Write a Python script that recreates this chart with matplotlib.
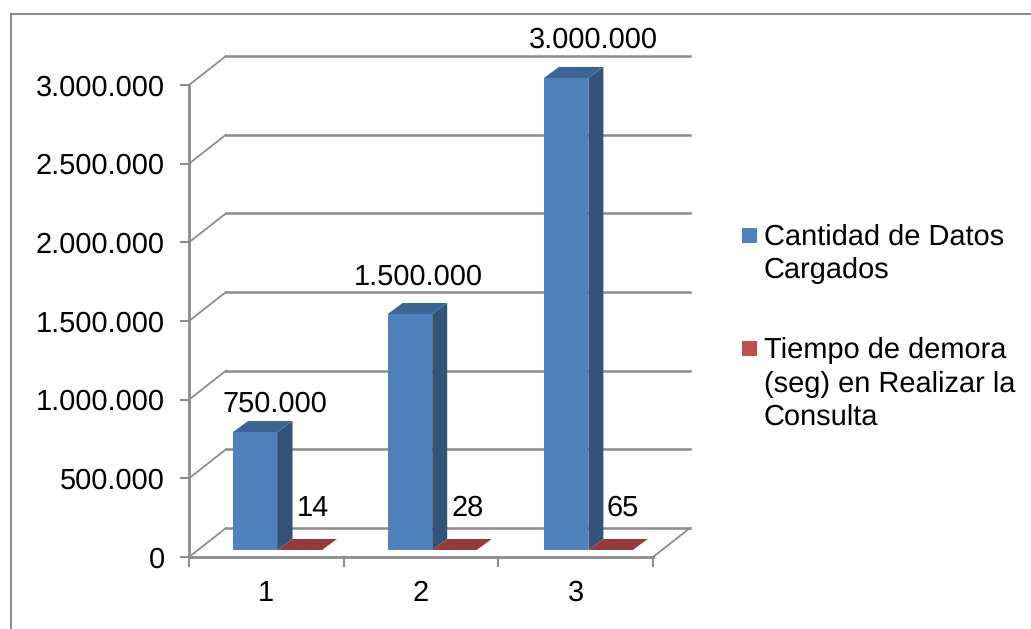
import matplotlib
matplotlib.use("Agg")
import matplotlib.pyplot as plt
from matplotlib.patches import Polygon, Rectangle

plt.rcParams['font.family'] = ['Liberation Sans', 'DejaVu Sans']
plt.rcParams['text.hinting'] = 'no_hinting'
plt.rcParams['text.hinting_factor'] = 1

# -----------------------------
# data
# -----------------------------
categories = [1, 2, 3]
cantidad = [750000, 1500000, 3000000]
tiempo = [14, 28, 65]
y_ticks = [0, 500000, 1000000, 1500000, 2000000, 2500000, 3000000]
y_labels = ["0", "500.000", "1.000.000", "1.500.000", "2.000.000", "2.500.000", "3.000.000"]
cantidad_labels = ["750.000", "1.500.000", "3.000.000"]
tiempo_labels = ["14", "28", "65"]

W, H = 1031, 629
FS = 21.15
FS_LEG = 21
GRAY = "#8c8c8c"

fig = plt.figure(figsize=(W / 100, H / 100), dpi=100)
# front plane of the fake 3d box
ax = fig.add_axes([189 / W, (H - 557) / H, (653 - 189) / W, (557 - 85) / H])
ax.set_xlim(0.5, 3.5)
ax.set_ylim(0, 3000000)
ax.patch.set_visible(False)
for s in ax.spines.values():
    s.set_visible(False)

px_x = 3.0 / (653 - 189)      # data units per pixel
px_y = 3000000 / (557 - 85)
depth_x, depth_y = 37 * px_x, 29 * px_y          # depth of the box
bar_dx, bar_dy = 15 * px_x, 11 * px_y            # depth of one bar
off_x, off_y = 9 * px_x, 7 * px_y                # bars sit a bit behind the front
bar_w = 44.5 * px_x
bar_left = -42.3 * px_x                          # from the category centre
nudge = [0, 0, 1.5 * px_x]                       # third group sits slightly right


def poly(pts, color, z=3):
    ax.add_patch(Polygon(pts, closed=True, facecolor=color, edgecolor="none", clip_on=False, zorder=z))


# grid on the back wall and the side wall
for v in y_ticks:
    ax.plot([0.5, 0.5 + depth_x], [v, v + depth_y], color=GRAY, lw=1.3, clip_on=False, zorder=1)
    ax.plot([0.5 + depth_x, 3.5 + depth_x], [v + depth_y, v + depth_y], color=GRAY, lw=1.8,
            clip_on=False, zorder=1)

# floor and axis lines
ax.plot([3.5, 3.5 + depth_x], [0, depth_y], color=GRAY, lw=1.3, clip_on=False, zorder=1)
ax.plot([0.5, 3.5], [0, 0], color=GRAY, lw=2, clip_on=False, zorder=2)
ax.plot([0.5, 0.5], [0, 3000000], color=GRAY, lw=2, clip_on=False, zorder=2)

# bars
for i, c in enumerate(categories):
    x0 = c + bar_left + off_x + nudge[i]
    x1 = x0 + bar_w
    base = off_y
    top = base + cantidad[i]
    poly([(x0, base), (x1, base), (x1, top), (x0, top)], "#4f81bd", 4)
    poly([(x1, base), (x1 + bar_dx, base + bar_dy), (x1 + bar_dx, top + bar_dy), (x1, top)], "#335379", 4)
    poly([(x0, top), (x1, top), (x1 + bar_dx, top + bar_dy), (x0 + bar_dx, top + bar_dy)], "#3d6593", 4)

    # red one is almost flat, only the top shows
    x2 = x1 + bar_w
    rtop = base + tiempo[i]
    poly([(x1, rtop), (x2, rtop), (x2 + bar_dx, rtop + bar_dy), (x1 + bar_dx, rtop + bar_dy)], "#953a3a", 3)

# data labels, offset in pixels from the bar top
lab_off = [(20, 28), (8, 37), (27, 38)]
for i, c in enumerate(categories):
    x0 = c + bar_left + off_x + nudge[i]
    ax.annotate(cantidad_labels[i], (x0 + bar_w / 2, off_y + cantidad[i]), xytext=lab_off[i],
                textcoords="offset pixels", ha="center", va="center", fontsize=FS, color="black",
                annotation_clip=False, zorder=6)
    ax.annotate(tiempo_labels[i], (c, 0), xytext=(47, 49), textcoords="offset pixels",
                ha="center", va="center", fontsize=FS, color="black",
                annotation_clip=False, zorder=6)

# ticks
ax.set_yticks(y_ticks)
ax.set_yticklabels(y_labels, fontsize=FS, color="black")
ax.set_xticks(categories)
ax.set_xticklabels([str(c) for c in categories], fontsize=FS, color="black")
ax.tick_params(axis="x", length=0, pad=16.5)
ax.tick_params(axis="y", length=6.5, width=1.5, color=GRAY, pad=11)
for v in [0.5, 1.5, 2.5, 3.5]:
    ax.plot([v, v], [0, -9 * px_y], color=GRAY, lw=1.5, clip_on=False, zorder=2)

# legend by hand, multi line entries keep the marker on the first line
fig.add_artist(Rectangle((742 / W, 1 - 243 / H), 15 / W, 15 / H, transform=fig.transFigure,
                         facecolor="#4f81bd", edgecolor="none"))
fig.add_artist(Rectangle((742 / W, 1 - 356 / H), 15 / W, 15 / H, transform=fig.transFigure,
                         facecolor="#c0504d", edgecolor="none"))
fig.text(764 / W, 1 - 245 / H, "Cantidad de Datos", fontsize=FS_LEG, va="baseline")
fig.text(764 / W, 1 - 278 / H, "Cargados", fontsize=FS_LEG, va="baseline")
fig.text(764 / W, 1 - 358 / H, "Tiempo de demora", fontsize=FS_LEG, va="baseline")
fig.text(764 / W, 1 - 392 / H, "(seg) en Realizar la", fontsize=FS_LEG, va="baseline")
fig.text(764 / W, 1 - 425 / H, "Consulta", fontsize=FS_LEG, va="baseline")

# chart frame, right and bottom edges fall outside the picture
fig.add_artist(Rectangle((11 / W, 1 - 640 / H), 1040 / W, 626 / H, transform=fig.transFigure,
                         facecolor="none", edgecolor=GRAY, lw=1.5))

fig.savefig("out.png", dpi=100)
